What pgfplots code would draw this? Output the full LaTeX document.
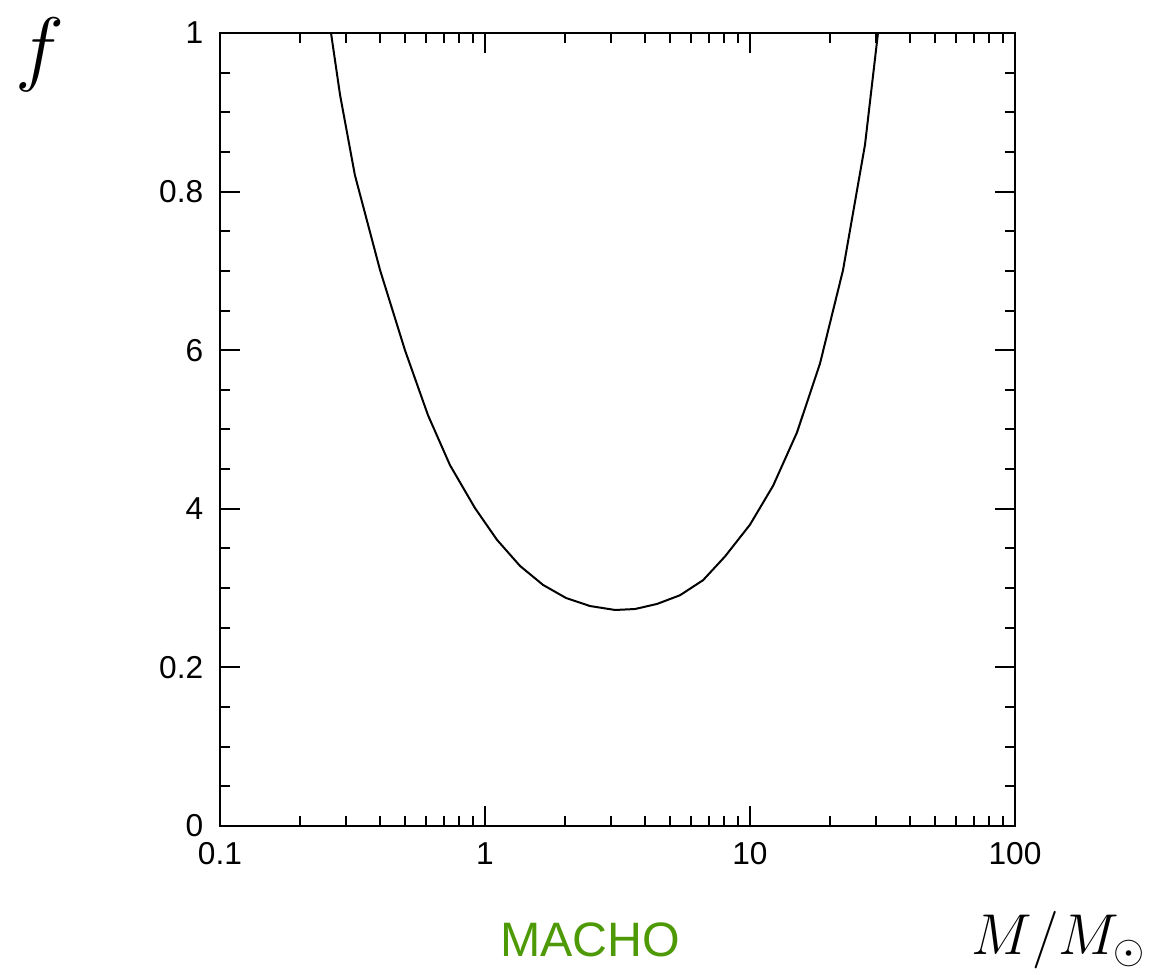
\documentclass[border=0pt]{standalone}
\usepackage{fontspec}
\setmainfont{Liberation Sans}
\usepackage{pgfplots}
\pgfplotsset{compat=1.18}
\definecolor{machogreen}{HTML}{4E9A06}

\begin{document}
\begin{tikzpicture}
\useasboundingbox (-66pt,-43.2pt) rectangle (281.1pt,247.8pt);
\begin{axis}[
  scale only axis, width=238.5pt, height=237.9pt,
  at={(0,0)}, anchor=south west,
  xmode=log, xmin=0.1, xmax=100, ymin=0, ymax=1,
  xtick={0.1,1,10,100}, xticklabels={0.1,1,10,100},
  ytick={0,0.2,0.4,0.6,0.8,1}, yticklabels={0,0.2,4,6,0.8,1},
  minor y tick num=3,
  tick align=inside,
  major tick length=6pt, minor tick length=3pt,
  every tick/.style={black, line width=0.6pt},
  axis line style={line width=0.75pt},
  ticklabel style={font=\fontsize{9.5}{11}\selectfont},
  /pgf/number format/assume math mode=true,
  xticklabel style={yshift=-1.5pt},
  yticklabel style={xshift=-1.5pt},
  clip=true
]
\addplot[black, line width=0.6pt] coordinates {
  (0.2624,1.000)(0.2838,0.922)(0.3228,0.821)(0.4018,0.701)(0.4989,0.600)
  (0.6095,0.518)(0.7379,0.455)(0.9162,0.401)(1.109,0.361)(1.355,0.328)
  (1.656,0.304)(2.023,0.2875)(2.489,0.2774)(3.097,0.2724)(3.681,0.2736)
  (4.457,0.280)(5.445,0.291)(6.653,0.310)(8.054,0.340)(10.0,0.380)
  (12.22,0.429)(15.03,0.496)(18.37,0.583)(22.44,0.701)(27.16,0.859)
  (30.41,1.000)};
\end{axis}
\node at (-54pt,231.3pt) {\fontsize{28}{30}\selectfont$f$};
\node at (251.7pt,-34.2pt) {\fontsize{17.6}{20}\selectfont$M/M_\odot$};
\node[machogreen] at (111pt,-34.2pt) {\fontsize{14.5}{16}\selectfont MACHO};
\end{tikzpicture}
\end{document}
